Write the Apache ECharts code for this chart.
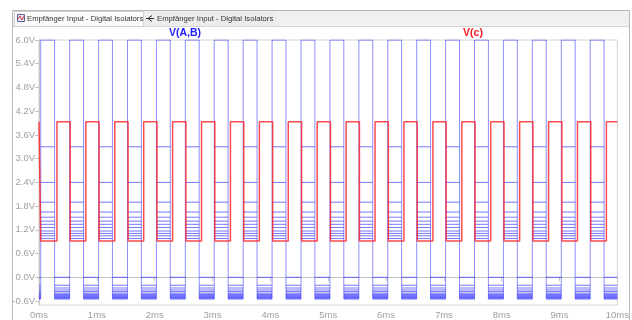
<!DOCTYPE html>
<html>
<head>
<meta charset="utf-8">
<script src="https://cdn.jsdelivr.net/npm/echarts@6/dist/echarts.min.js"></script>
<style>
  html, body { margin: 0; padding: 0; background: #ffffff; }
  #chart { width: 632px; height: 320px; }
</style>
</head>
<body>
<div id="chart"></div>
<script>
// Waveform viewer: V(A,B) parameter sweep (blue) and receiver output V(c) (red)

const yTicks = [-0.6, 0.0, 0.6, 1.2, 1.8, 2.4, 3.0, 3.6, 4.2, 4.8, 5.4, 6.0];
const xTicks = [0, 1, 2, 3, 4, 5, 6, 7, 8, 9, 10];

// V(A,B): high / low level of each swept trace (V)
const abHighs = [6.0, 3.3, 2.4, 1.9, 1.65, 1.52, 1.42, 1.34, 1.26, 1.17, 1.11, 1.05, 0.98];
const abLows  = [0.0, -0.2, -0.27, -0.32, -0.36, -0.4, -0.43, -0.45, -0.47, -0.49, -0.51, -0.53, -0.55];

// V(A,B) edge times (ms)
const abRise = [0.03, 0.53, 1.03, 1.53, 2.03, 2.53, 3.03, 3.53, 4.03, 4.53,
                5.03, 5.53, 6.03, 6.53, 7.03, 7.53, 8.03, 8.53, 9.03, 9.53];
const abFall = [0.27, 0.77, 1.27, 1.77, 2.27, 2.77, 3.27, 3.77, 4.27, 4.77,
                5.27, 5.77, 6.27, 6.77, 7.27, 7.77, 8.27, 8.77, 9.27, 9.77];

// V(c): output levels (V) and edge times (ms)
const cHigh = 3.93;
const cLow = 0.92;
const cFall = [0.03, 0.54, 1.04, 1.54, 2.04, 2.54, 3.04, 3.54, 4.04, 4.54,
               5.04, 5.54, 6.04, 6.54, 7.04, 7.54, 8.04, 8.54, 9.04, 9.54];
const cRise = [0.31, 0.81, 1.31, 1.81, 2.31, 2.81, 3.31, 3.81, 4.31, 4.81,
               5.31, 5.81, 6.31, 6.81, 7.31, 7.81, 8.31, 8.81, 9.31, 9.81];

const tEnd = 10;
const GAP = '-';

function mergedEdges(a, b) {
  return a.concat(b).sort((p, q) => p - q);
}

// Flat parts of a square wave, one segment per level interval (breaks between them)
function flatParts(edges, startLevel, otherLevel) {
  const pts = [];
  const bounds = [0].concat(edges, [tEnd]);
  let level = startLevel;
  for (let k = 0; k < bounds.length - 1; k++) {
    pts.push([bounds[k], level], [bounds[k + 1], level], [bounds[k + 1], GAP]);
    level = level === startLevel ? otherLevel : startLevel;
  }
  return pts;
}

// Transitions shared by all swept traces: one vertical stroke per edge over the sweep envelope
function sweepEdges(edges, lo, hi) {
  const pts = [];
  edges.forEach(t => { pts.push([t, lo], [t, hi], [t, GAP]); });
  return pts;
}

// Full square wave (single trace)
function squareWave(edges, startLevel, otherLevel) {
  const pts = [[0, startLevel]];
  let cur = startLevel, nxt = otherLevel;
  edges.forEach(t => {
    pts.push([t, cur], [t, nxt]);
    const tmp = cur; cur = nxt; nxt = tmp;
  });
  pts.push([tEnd, cur]);
  return pts;
}

const abEdges = mergedEdges(abRise, abFall);
const cEdges = mergedEdges(cFall, cRise);

const flatStyle = { color: '#1a1aff', width: 1, opacity: 0.6 };
const edgeStyle = { color: '#1f1fff', width: 1, opacity: 0.5 };
const lineBase = { type: 'line', showSymbol: false, symbol: 'none', silent: true, connectNulls: false };

const series = [];
abHighs.forEach((h, i) => {
  series.push(Object.assign({}, lineBase, {
    name: 'V(A,B)',
    data: flatParts(abEdges, abLows[i], h),
    lineStyle: flatStyle
  }));
});
series.push(Object.assign({}, lineBase, {
  name: 'V(A,B)',
  data: sweepEdges(abEdges, Math.min(...abLows), Math.max(...abHighs)),
  lineStyle: edgeStyle
}));
series.push(Object.assign({}, lineBase, {
  name: 'V(c)',
  data: squareWave(cEdges, cHigh, cLow),
  lineStyle: { color: '#ff1a1a', width: 1.5, opacity: 0.78 }
}));

const axisGrey = '#a0a0a0';
const tabText = 'Empfänger Input - Digital Isolators';

const chart = echarts.init(document.getElementById('chart'), null, { renderer: 'canvas' });
chart.setOption({
  animation: false,
  backgroundColor: '#ffffff',
  grid: {
    left: 39, right: 14, top: 40, bottom: 14,
    show: true, borderColor: '#d4d4d4', borderWidth: 1, backgroundColor: 'transparent'
  },
  xAxis: {
    type: 'value', min: 0, max: 10, interval: 1,
    axisLine: { show: true, lineStyle: { color: '#c4c4c4', width: 1 } },
    axisTick: { show: true, length: 4, lineStyle: { color: '#c4c4c4' } },
    axisLabel: {
      color: axisGrey, fontSize: 9.5, fontFamily: 'Liberation Sans', margin: 5,
      formatter: v => xTicks.includes(v) ? v + 'ms' : ''
    },
    splitLine: { show: false }
  },
  yAxis: {
    type: 'value', min: -0.7, max: 6.0,
    axisLine: { show: true, lineStyle: { color: '#c4c4c4', width: 1 } },
    axisTick: { show: true, length: 4, customValues: yTicks, lineStyle: { color: '#c4c4c4' } },
    axisLabel: {
      customValues: yTicks, color: axisGrey, fontSize: 9.5, fontFamily: 'Liberation Sans', margin: 4,
      formatter: v => v.toFixed(1) + 'V'
    },
    splitLine: { show: false }
  },
  graphic: [
    // window frame and tab strip
    { type: 'rect', shape: { x: 12.5, y: 10.5, width: 617, height: 320 },
      style: { fill: '#ffffff', stroke: '#b8b8b8', lineWidth: 1 }, z: -10 },
    { type: 'rect', shape: { x: 13, y: 11, width: 616, height: 15 },
      style: { fill: '#f0f0f0' }, z: -9 },
    { type: 'line', shape: { x1: 13, y1: 26.5, x2: 629, y2: 26.5 },
      style: { stroke: '#d6d6d6', lineWidth: 1 }, z: -8 },
    // first tab
    { type: 'rect', shape: { x: 14.5, y: 11.5, width: 129, height: 15 },
      style: { fill: '#fbfbfb', stroke: '#cfcfcf', lineWidth: 1 }, z: -7 },
    { type: 'rect', shape: { x: 17.5, y: 14.5, width: 7, height: 7 },
      style: { fill: '#e4e4f4', stroke: '#6060a0', lineWidth: 1 }, z: -6 },
    { type: 'polyline', shape: { points: [[18, 19], [20, 16], [22, 20], [24, 16]] },
      style: { stroke: '#d04040', lineWidth: 1, fill: null }, z: -5 },
    { type: 'text', x: 27, y: 18.5,
      style: { text: tabText, fontSize: 7.7, fontFamily: 'Liberation Sans', fill: '#333333',
               verticalAlign: 'middle', align: 'left' } },
    // second tab: pin icon + title
    { type: 'rect', shape: { x: 144, y: 11.5, width: 133, height: 14.5 },
      style: { fill: '#ececec' }, z: -7 },
    { type: 'polyline', shape: { points: [[152, 15.5], [148, 18.5], [152, 21.5]] },
      style: { stroke: '#333333', lineWidth: 1, fill: null } },
    { type: 'line', shape: { x1: 146, y1: 18.5, x2: 154, y2: 18.5 },
      style: { stroke: '#333333', lineWidth: 1 } },
    { type: 'text', x: 157, y: 18.5,
      style: { text: tabText, fontSize: 7.7, fontFamily: 'Liberation Sans', fill: '#333333',
               verticalAlign: 'middle', align: 'left' } },
    // trace names
    { type: 'text', x: 185, y: 33,
      style: { text: 'V(A,B)', fontSize: 10.5, fontWeight: 'bold', fontFamily: 'Liberation Sans',
               fill: '#2020ff', align: 'center', verticalAlign: 'middle' } },
    { type: 'text', x: 473, y: 33,
      style: { text: 'V(c)', fontSize: 10.5, fontWeight: 'bold', fontFamily: 'Liberation Sans',
               fill: '#ff1a1a', align: 'center', verticalAlign: 'middle' } }
  ],
  series: series
});
</script>
</body>
</html>
